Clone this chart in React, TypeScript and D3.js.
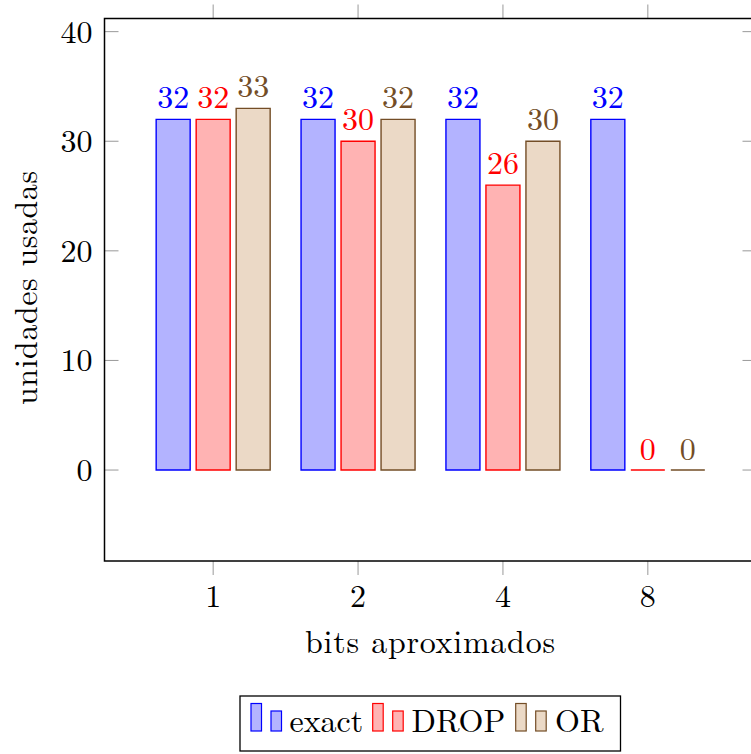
import React from "react";
import * as d3 from "d3";

// Units used per number of approximated bits, for each scheme
const categories = ["1", "2", "4", "8"];
const exactValues = [32, 32, 32, 32];
const dropValues = [32, 30, 26, 0];
const orValues = [33, 32, 30, 0];
const yTicks = [0, 10, 20, 30, 40];

const seriesNames = ["exact", "DROP", "OR"];
const seriesValues = [exactValues, dropValues, orValues];
const seriesStroke = ["#0000ff", "#ff0000", "#734d26"];
const seriesFill = ["#b3b3ff", "#ffb3b3", "#ebd9c6"];

const W = 751;
const H = 754;
const FONT = "'Latin Modern Roman', 'CMU Serif', 'Liberation Serif', serif";
const FS = 32;

const left = 104.5;
const right = 756.5;
const top = 18.5;
const bottom = 561;
const tickLen = 14;
const barW = 34;
const barOffsets = [-40, 0, 40];

export default function App() {
  const x = d3.scaleLinear().domain([-0.75, categories.length - 0.25]).range([left, right]);
  const y = d3.scaleLinear().domain([-8.3, 41.2]).range([bottom, top]);

  const legendItems = [
    { x1: 251, tx: 289.5 },
    { x1: 372.7, tx: 411.5 },
    { x1: 515.7, tx: 555 },
  ];

  return (
    <svg
      width={W}
      height={H}
      style={{ position: "absolute", left: 0, top: 0, background: "#fff" }}
      fontFamily={FONT}
    >
      <rect width={W} height={H} fill="#fff" />

      {/* ticks */}
      {yTicks.map((t) => (
        <g key={"y" + t} stroke="#999" strokeWidth={1}>
          <line x1={left} x2={left + tickLen} y1={y(t)} y2={y(t)} />
          <line x1={right} x2={right - tickLen} y1={y(t)} y2={y(t)} />
        </g>
      ))}
      {categories.map((c, i) => (
        <g key={"x" + c} stroke="#999" strokeWidth={1}>
          <line x1={x(i)} x2={x(i)} y1={bottom} y2={bottom + tickLen} />
          <line x1={x(i)} x2={x(i)} y1={top} y2={top - tickLen} />
        </g>
      ))}

      {/* bars, drawn as closed paths so zero-height bars still show their outline */}
      {seriesValues.map((vals, s) =>
        vals.map((v, i) => {
          const cx = x(i) + barOffsets[s];
          const y0 = y(0);
          const y1 = y(v);
          const x0 = cx - barW / 2;
          const x1 = cx + barW / 2;
          const p = d3.path();
          p.moveTo(x0, y0);
          p.lineTo(x0, y1);
          p.lineTo(x1, y1);
          p.lineTo(x1, y0);
          p.closePath();
          return (
            <g key={`b${s}-${i}`}>
              <path
                d={p.toString()}
                fill={seriesFill[s]}
                stroke={seriesStroke[s]}
                strokeWidth={1.4}
              />
              <text
                x={cx}
                y={y1 - (v === 0 ? 10 : 11)}
                textAnchor="middle"
                fontSize={FS}
                fill={seriesStroke[s]}
              >
                {v}
              </text>
            </g>
          );
        })
      )}

      {/* axis frame */}
      <rect
        x={left}
        y={top}
        width={right - left}
        height={bottom - top}
        fill="none"
        stroke="#000"
        strokeWidth={1.5}
      />

      {/* tick labels */}
      {yTicks.map((t) => (
        <text
          key={"yl" + t}
          x={92.5}
          y={y(t) + 11}
          textAnchor="end"
          fontSize={FS}
          fill="#000"
        >
          {t}
        </text>
      ))}
      {categories.map((c, i) => (
        <text
          key={"xl" + c}
          x={x(i)}
          y={607}
          textAnchor="middle"
          fontSize={FS}
          fill="#000"
        >
          {c}
        </text>
      ))}

      {/* axis titles */}
      <text
        x={430}
        y={653}
        textAnchor="middle"
        fontSize={FS}
        fill="#000"
        textLength={250}
        lengthAdjust="spacing"
      >
        bits aproximados
      </text>
      <text
        transform={`translate(37,288) rotate(-90)`}
        textAnchor="middle"
        fontSize={FS}
        fill="#000"
        textLength={234}
        lengthAdjust="spacing"
      >
        unidades usadas
      </text>

      {/* legend */}
      <rect x={240} y={696} width={380.5} height={55} fill="#fff" stroke="#000" strokeWidth={1.3} />
      {legendItems.map((it, s) => (
        <g key={"lg" + s}>
          <rect
            x={it.x1}
            y={703.5}
            width={10.5}
            height={27.5}
            fill={seriesFill[s]}
            stroke={seriesStroke[s]}
            strokeWidth={1.2}
          />
          <rect
            x={it.x1 + 20}
            y={711}
            width={10.5}
            height={20}
            fill={seriesFill[s]}
            stroke={seriesStroke[s]}
            strokeWidth={1.2}
          />
          <text x={it.tx} y={731.5} fontSize={FS} fill="#000">
            {seriesNames[s]}
          </text>
        </g>
      ))}
    </svg>
  );
}
